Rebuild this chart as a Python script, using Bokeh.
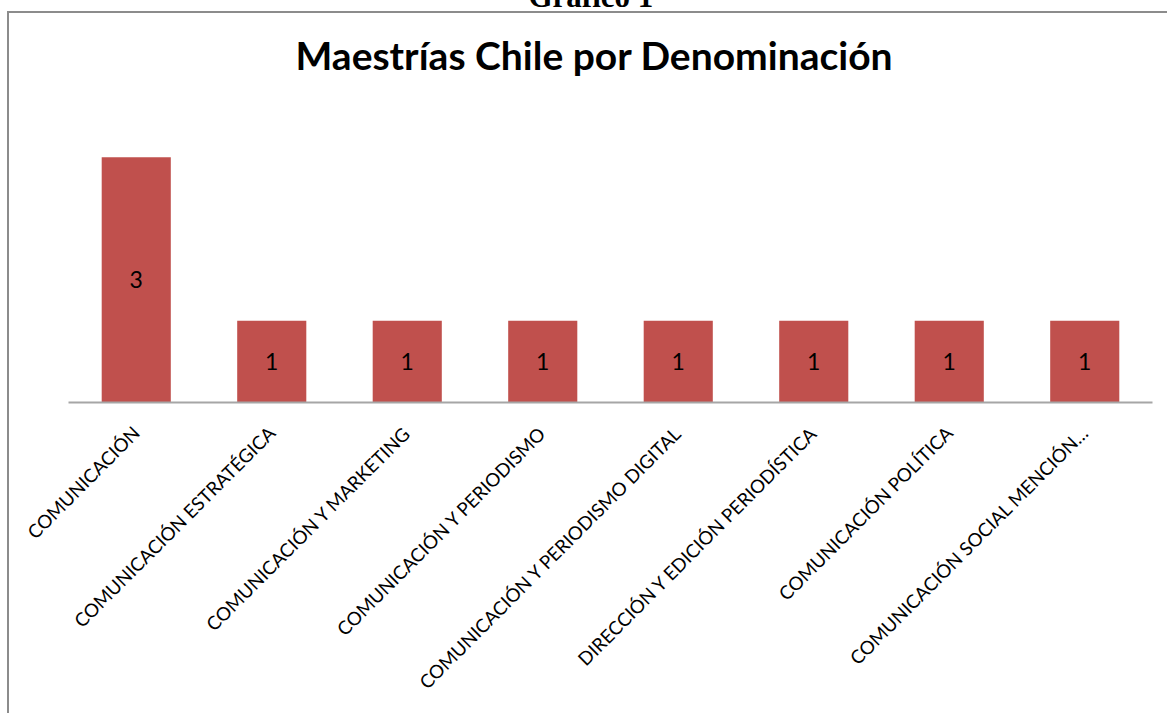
import math
from bokeh.plotting import figure
from bokeh.models import FactorRange, Range1d, Title, ColumnDataSource
from bokeh.core.properties import value
from bokeh.embed import file_html
from bokeh.resources import INLINE

categories = [
    "COMUNICACIÓN",
    "COMUNICACIÓN ESTRATÉGICA",
    "COMUNICACIÓN Y MARKETING",
    "COMUNICACIÓN Y PERIODISMO",
    "COMUNICACIÓN Y PERIODISMO DIGITAL",
    "DIRECCIÓN Y EDICIÓN PERIODÍSTICA",
    "COMUNICACIÓN POLÍTICA",
    "COMUNICACIÓN SOCIAL MENCIÓN…",
]
counts = [3, 1, 1, 1, 1, 1, 1, 1]
title_text = "Maestrías Chile por Denominación"
caption_text = "Gráfico 1"

src = ColumnDataSource(dict(
    cat=categories,
    val=counts,
    mid=[v / 2 for v in counts],
    lab=[str(v) for v in counts],
))

K = 30  # extra canvas height hidden above the window
gray = "#8C8C8C"
frame_css = (
    f"linear-gradient({gray},{gray}) 7px {11 + K}px / 2px 702px no-repeat, "
    f"linear-gradient({gray},{gray}) 7px {11 + K}px / 1160px 2px no-repeat, #FFFFFF"
)

p = figure(
    width=1167, height=713 + K,
    x_range=FactorRange(factors=categories, range_padding=0),
    y_range=Range1d(0, 3.5),
    output_backend="svg", toolbar_location=None,
    min_border_left=68, min_border_right=15,
    min_border_top=116 + K, min_border_bottom=311,
    background_fill_color=None, border_fill_color=None,
    styles={"background": frame_css, "margin-top": f"-{K}px"},
)
p.outline_line_color = None
p.xgrid.grid_line_color = None
p.ygrid.grid_line_color = None
p.yaxis.visible = False

p.vbar(x="cat", top="val", width=0.51, source=src,
       fill_color="#C0504D", line_color=None)
p.text(x="cat", y="mid", text="lab", source=src,
       text_align="center", text_baseline="middle",
       text_font=value("Lato"), text_font_size="23px", text_color="black")

ax = p.xaxis[0]
ax.axis_line_color = "#A6A6A6"
ax.axis_line_width = 2
ax.major_tick_line_color = None
ax.minor_tick_line_color = None
ax.major_label_orientation = math.pi / 4
ax.major_label_text_font = "Lato"
ax.major_label_text_font_size = "18.7px"
ax.major_label_text_color = "black"
ax.major_label_standoff = 21

# outermost: caption
p.title.text = caption_text
p.title.align = "left"
p.title.offset = 460
p.title.standoff = -46
p.title.text_font = "Liberation Serif"
p.title.text_font_style = "bold"
p.title.text_font_size = "31px"
p.title.text_color = "black"

main_title = Title(text=title_text, align="left", offset=227, standoff=78,
                   text_font="Lato", text_font_style="bold",
                   text_font_size="39px", text_color="black")
p.add_layout(main_title, "above")

open("out.html", "w").write(file_html(p, INLINE))
